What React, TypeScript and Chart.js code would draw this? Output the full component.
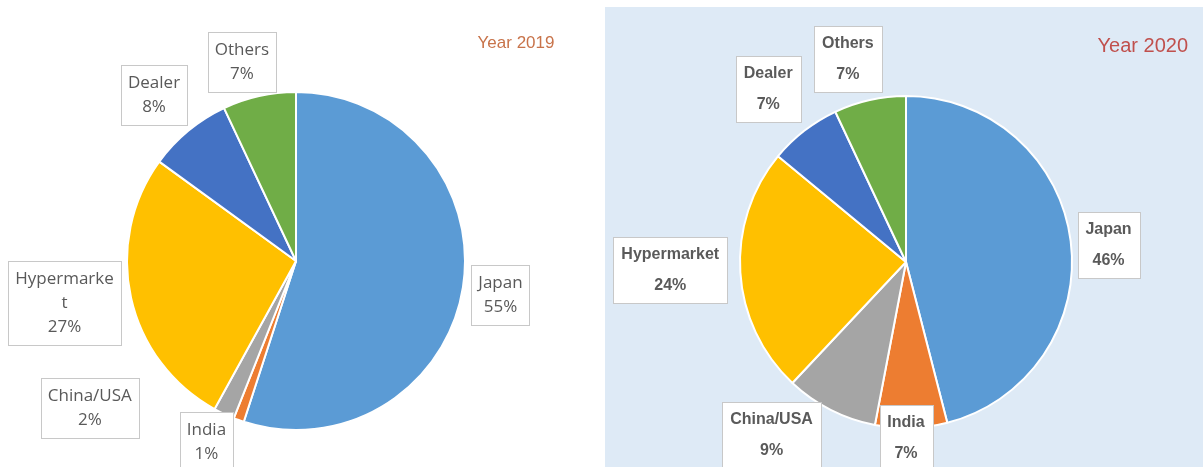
import React, { useEffect, useRef } from 'react';
import { Chart, registerables } from 'chart.js';

Chart.register(...registerables);

const categories = ['Japan', 'India', 'China/USA', 'Hypermarket', 'Dealer', 'Others'];
const share2019 = [55, 1, 2, 27, 8, 7];
const share2020 = [46, 7, 9, 24, 7, 7];
const sliceColors = ['#5b9bd5', '#ed7d31', '#a5a5a5', '#ffc000', '#4472c4', '#70ad47'];

// label box anchors, in units of the pie radius from its centre (layout only)
const anchors2019 = [[1.21, 0.2], [-0.53, 1.07], [-1.22, 0.87], [-1.37, 0.25], [-0.84, -0.98], [-0.32, -1.18]];
const anchors2020 = [[1.22, -0.1], [0.0, 1.06], [-0.81, 1.04], [-1.42, 0.05], [-0.83, -1.04], [-0.35, -1.22]];

type LabelCfg = {
  anchors: number[][];
  font: string;
  color: string;
  lineHeight: number;
  padX: number;
  padY: number;
  maxWidth: number;
  borderColor: string;
  title: string;
  titleFont: string;
  titleColor: string;
  titleAlign: CanvasTextAlign;
  titleX: number;
  titleY: number;
};

function wrap(ctx: CanvasRenderingContext2D, text: string, maxWidth: number): string[] {
  if (ctx.measureText(text).width <= maxWidth) return [text];
  const out: string[] = [];
  let cur = '';
  for (const ch of text) {
    if (cur && ctx.measureText(cur + ch).width > maxWidth) {
      out.push(cur);
      cur = ch;
    } else cur += ch;
  }
  if (cur) out.push(cur);
  return out;
}

function makeLabelPlugin(cfg: LabelCfg) {
  return {
    id: 'boxLabels',
    afterDatasetsDraw(chart: any) {
      const ctx: CanvasRenderingContext2D = chart.ctx;
      const meta = chart.getDatasetMeta(0);
      const values = chart.data.datasets[0].data as number[];
      const labels = chart.data.labels as string[];
      ctx.save();
      ctx.font = cfg.font;
      meta.data.forEach((arc: any, i: number) => {
        const { x, y, outerRadius } = arc.getProps(['x', 'y', 'outerRadius'], true);
        const [ax, ay] = cfg.anchors[i];
        const cx = x + ax * outerRadius;
        const cy = y + ay * outerRadius;
        const lines = [...wrap(ctx, labels[i], cfg.maxWidth), values[i] + '%'];
        const tw = Math.max(...lines.map((l) => ctx.measureText(l).width));
        const w = Math.round(tw + 2 * cfg.padX);
        const h = Math.round(lines.length * cfg.lineHeight + 2 * cfg.padY);
        const bx = Math.round(cx - w / 2) + 0.5;
        const by = Math.round(cy - h / 2) + 0.5;
        ctx.fillStyle = '#ffffff';
        ctx.fillRect(bx, by, w, h);
        ctx.strokeStyle = cfg.borderColor;
        ctx.lineWidth = 1;
        ctx.strokeRect(bx, by, w, h);
        ctx.fillStyle = cfg.color;
        ctx.textAlign = 'center';
        ctx.textBaseline = 'middle';
        lines.forEach((l, k) => ctx.fillText(l, cx, by + cfg.padY + cfg.lineHeight * (k + 0.5)));
      });
      ctx.font = cfg.titleFont;
      ctx.fillStyle = cfg.titleColor;
      ctx.textAlign = cfg.titleAlign;
      ctx.textBaseline = 'middle';
      ctx.fillText(cfg.title, cfg.titleX, cfg.titleY);
      ctx.restore();
    },
  };
}

function PieChart(props: {
  values: number[];
  padding: { left: number; right: number; top: number; bottom: number };
  width: number;
  height: number;
  cfg: LabelCfg;
}) {
  const ref = useRef<HTMLCanvasElement>(null);
  useEffect(() => {
    const chart = new Chart(ref.current as HTMLCanvasElement, {
      type: 'pie',
      data: {
        labels: categories,
        datasets: [
          {
            data: props.values,
            backgroundColor: sliceColors,
            borderColor: '#ffffff',
            borderWidth: 2,
          },
        ],
      },
      options: {
        responsive: false,
        animation: false,
        devicePixelRatio: 1,
        layout: { padding: props.padding },
        plugins: { legend: { display: false }, tooltip: { enabled: false }, title: { display: false } },
      },
      plugins: [makeLabelPlugin(props.cfg)],
    });
    return () => chart.destroy();
  }, []);
  return <canvas ref={ref} width={props.width} height={props.height} style={{ display: 'block' }} />;
}

export default function App() {
  useEffect(() => {
    document.body.style.margin = '0';
  }, []);
  const leftCfg: LabelCfg = {
    anchors: anchors2019,
    font: '17px "Open Sans"',
    color: '#595959',
    lineHeight: 24,
    padX: 7,
    padY: 6,
    maxWidth: 100,
    borderColor: '#c8c8c8',
    title: 'Year 2019',
    titleFont: '17px "Liberation Sans"',
    titleColor: '#c8734a',
    titleAlign: 'center',
    titleX: 516,
    titleY: 43,
  };
  const rightCfg: LabelCfg = {
    anchors: anchors2020,
    font: 'bold 16px "Liberation Sans"',
    color: '#5a5a5a',
    lineHeight: 31,
    padX: 8,
    padY: 2,
    maxWidth: 1000,
    borderColor: '#c8c8c8',
    title: 'Year 2020',
    titleFont: '20px "Liberation Sans"',
    titleColor: '#c0504d',
    titleAlign: 'right',
    titleX: 585,
    titleY: 46,
  };
  return (
    <div style={{ position: 'relative', width: 1203, height: 467, background: '#ffffff', overflow: 'hidden' }}>
      <div style={{ position: 'absolute', left: 0, top: 0 }}>
        <PieChart values={share2019} width={603} height={467} padding={{ left: 126, right: 137, top: 91, bottom: 36 }} cfg={leftCfg} />
      </div>
      <div style={{ position: 'absolute', left: 605, top: 7, width: 598, height: 460, background: '#deeaf6' }} />
      <div style={{ position: 'absolute', left: 603, top: 0 }}>
        <PieChart values={share2020} width={600} height={467} padding={{ left: 136, right: 130, top: 95, bottom: 38 }} cfg={rightCfg} />
      </div>
    </div>
  );
}
